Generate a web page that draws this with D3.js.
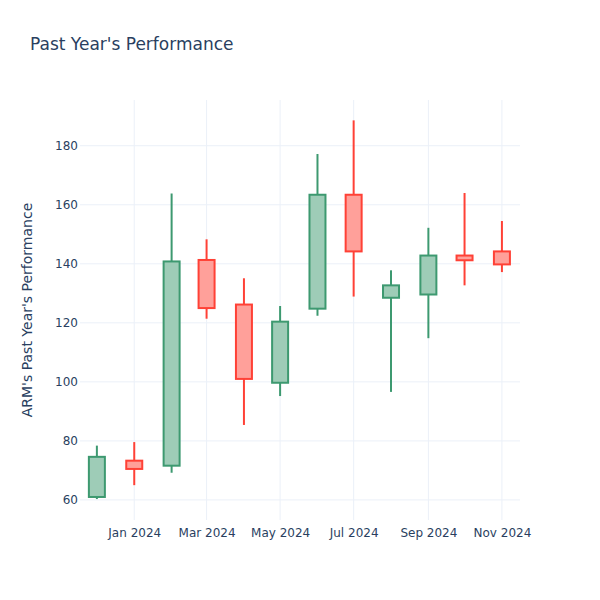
<!DOCTYPE html>
<html>
<head>
<meta charset="utf-8">
<script src="https://cdn.jsdelivr.net/npm/d3@7"></script>
<style>
body{margin:0;background:#fff;}
text{font-family:"DejaVu Sans", Verdana, sans-serif;}
</style>
</head>
<body>
<svg id="chart" width="600" height="600"></svg>
<script>
const dates = ["2023-12-01","2024-01-01","2024-02-01","2024-03-01","2024-04-01","2024-05-01","2024-06-01","2024-07-01","2024-08-01","2024-09-01","2024-10-01","2024-11-01"];
const openV  = [61.0, 73.3, 71.6, 141.3, 126.2, 99.7, 124.8, 163.4, 128.5, 129.6, 142.8, 144.2];
const highV  = [78.4, 79.6, 163.8, 148.3, 135.1, 125.7, 177.2, 188.6, 137.8, 152.2, 164.0, 154.5];
const lowV   = [60.3, 65.0, 69.2, 121.4, 85.4, 95.2, 122.4, 128.9, 96.6, 114.8, 132.7, 137.2];
const closeV = [74.6, 70.5, 140.8, 125.0, 101.0, 120.4, 163.4, 144.2, 132.7, 142.8, 141.2, 139.8];
const yTicks = [60, 80, 100, 120, 140, 160, 180];
const xTickDates = ["2024-01-01","2024-03-01","2024-05-01","2024-07-01","2024-09-01","2024-11-01"];

const parse = d3.utcParse("%Y-%m-%d");
const data = dates.map((d,i)=>({date:parse(d), o:openV[i], h:highV[i], l:lowV[i], c:closeV[i]}));

const svg = d3.select("#chart");
const m = {l:80, r:80, t:100, b:80};
const W = 600, H = 600;

const x = d3.scaleUtc()
  .domain([parse("2023-11-17"), parse("2024-11-16")])
  .range([m.l, W - m.r]);
const y = d3.scaleLinear().domain([53.2, 195.5]).range([H - m.b, m.t]);

// grid
const g = svg.append("g");
g.selectAll(".hg").data(yTicks).enter().append("line")
  .attr("x1", m.l).attr("x2", W - m.r)
  .attr("y1", d=>y(d)).attr("y2", d=>y(d))
  .attr("stroke", "#EBF0F8").attr("stroke-width", 1);
g.selectAll(".vg").data(xTickDates).enter().append("line")
  .attr("y1", m.t).attr("y2", H - m.b)
  .attr("x1", d=>x(parse(d))).attr("x2", d=>x(parse(d)))
  .attr("stroke", "#EBF0F8").attr("stroke-width", 1);

// axes
const yAxis = d3.axisLeft(y).tickValues(yTicks).tickSize(0).tickPadding(2);
const ya = svg.append("g").attr("transform", `translate(${m.l},0)`).call(yAxis);
ya.select(".domain").remove();
ya.selectAll("text").attr("fill", "#2a3f5f").style("font-size", "12px");

const xAxis = d3.axisBottom(x).tickValues(xTickDates.map(parse))
  .tickFormat(d3.utcFormat("%b %Y")).tickSize(0).tickPadding(8);
const xa = svg.append("g").attr("transform", `translate(0,${H - m.b})`).call(xAxis);
xa.select(".domain").remove();
xa.selectAll("text").attr("fill", "#2a3f5f").style("font-size", "12px");

// candles
const bw = 16;
const inc = {line:"#3D9970", fill:"rgba(61,153,112,0.5)"};
const dec = {line:"#FF4136", fill:"rgba(255,65,54,0.5)"};
const cg = svg.append("g");
data.forEach(d=>{
  const col = d.c >= d.o ? inc : dec;
  const cx = x(d.date);
  cg.append("line").attr("x1", cx).attr("x2", cx)
    .attr("y1", y(d.h)).attr("y2", y(d.l))
    .attr("stroke", col.line).attr("stroke-width", 2);
  const top = y(Math.max(d.o, d.c)), bot = y(Math.min(d.o, d.c));
  cg.append("rect").attr("x", cx - bw/2).attr("width", bw)
    .attr("y", top).attr("height", Math.max(bot - top, 0.5))
    .attr("fill", "#fff").attr("stroke", "none");
  cg.append("rect").attr("x", cx - bw/2).attr("width", bw)
    .attr("y", top).attr("height", Math.max(bot - top, 0.5))
    .attr("fill", col.fill).attr("stroke", col.line).attr("stroke-width", 2);
});

// titles
svg.append("text").attr("x", 30).attr("y", 50)
  .attr("fill", "#2a3f5f").style("font-size", "17px")
  .text("Past Year's Performance");
svg.append("text")
  .attr("transform", `translate(32,${(m.t + H - m.b)/2}) rotate(-90)`)
  .attr("text-anchor", "middle")
  .attr("fill", "#2a3f5f").style("font-size", "14px")
  .text("ARM's Past Year's Performance");
</script>
</body>
</html>
